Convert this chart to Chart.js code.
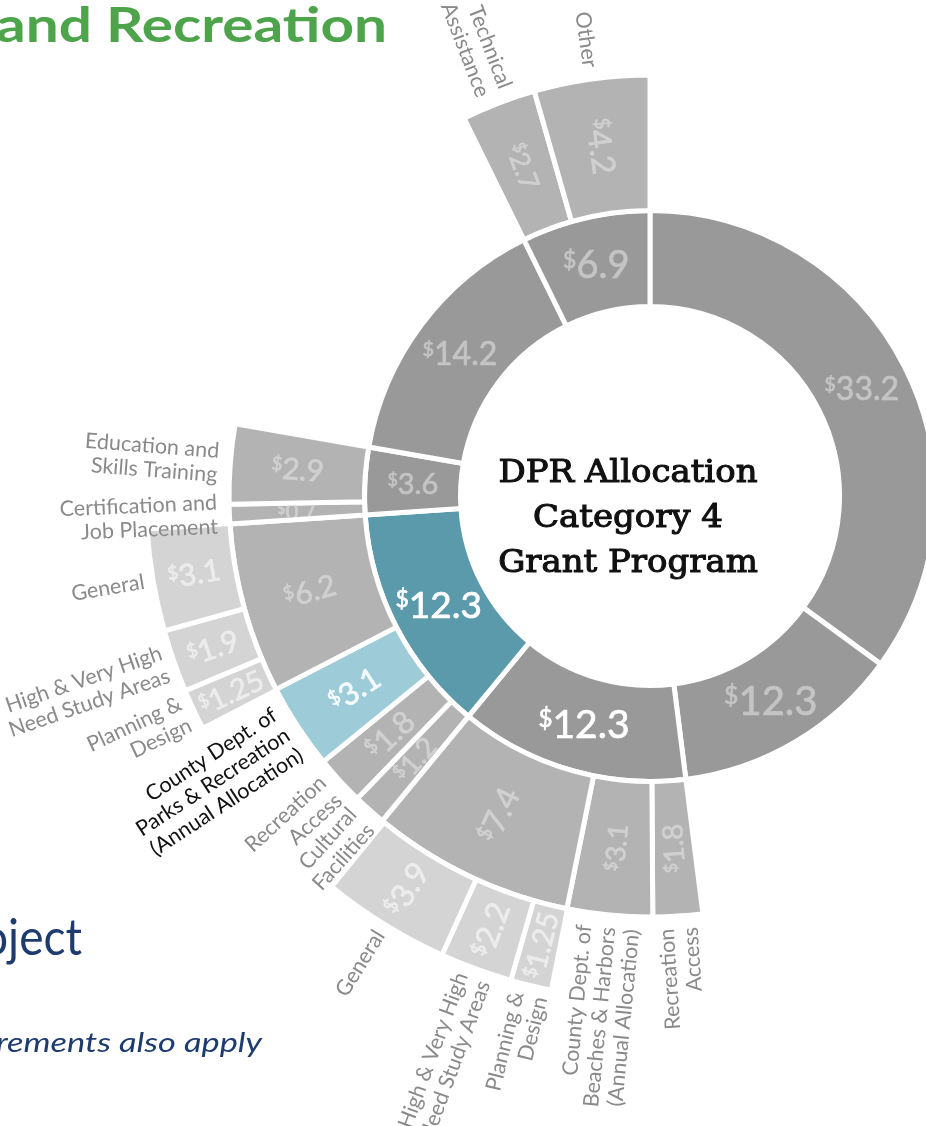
<!DOCTYPE html>
<html>
<head>
<meta charset="utf-8">
<script src="https://cdn.jsdelivr.net/npm/chart.js@4.4.1/dist/chart.umd.min.js"></script>
<style>
html,body{margin:0;padding:0;background:#fff;overflow:hidden;width:926px;height:1126px;}
canvas{display:block;}
</style>
</head>
<body>
<canvas id="c" width="926" height="1126"></canvas>
<script>
// ---------------- DATA ----------------
// Inner ring, clockwise from 12 o'clock ($ millions)
const ring1Values = [33.2, 12.3, 12.3, 12.3, 3.6, 14.2, 6.9];
// Middle ring: parent index (into ring1) and values, clockwise
const ring2Parent = [2, 2, 2, 3, 3, 3, 3, 4, 4, 6, 6];
const ring2Values = [1.8, 3.1, 7.4, 1.2, 1.8, 3.1, 6.2, 0.7, 2.9, 2.7, 4.2];
const ring2Labels = [
  ['Recreation', 'Access'],
  ['County Dept. of', 'Beaches & Harbors', '(Annual Allocation)'],
  null,
  ['Cultural', 'Facilities'],
  ['Recreation', 'Access'],
  ['County Dept. of', 'Parks & Recreation', '(Annual Allocation)'],
  null,
  ['Certification and', 'Job Placement'],
  ['Education and', 'Skills Training'],
  ['Technical', 'Assistance'],
  ['Other']
];
// Outer ring: parent index (into ring2) and values, clockwise
const ring3Parent = [2, 2, 2, 6, 6, 6];
const ring3Values = [1.25, 2.2, 3.9, 1.25, 1.9, 3.1];
const ring3Labels = [
  ['Planning &', 'Design'],
  ['High & Very High', 'Need Study Areas'],
  ['General'],
  ['Planning &', 'Design'],
  ['High & Very High', 'Need Study Areas'],
  ['General']
];
const centerTitle = ['DPR Allocation', 'Category 4', 'Grant Program'];

// ---------------- STYLES ----------------
const GRAY1 = '#999999', GRAY2 = '#b3b3b3', GRAY3 = '#d4d4d4';
const TEAL = '#5b9aab', LIGHTBLUE = '#9dcbd7';
const ring1Colors = [GRAY1, GRAY1, GRAY1, TEAL, GRAY1, GRAY1, GRAY1];
const ring1TextColors = ['#c4c4c4', '#c4c4c4', '#ffffff', '#ffffff', '#c4c4c4', '#c4c4c4', '#c4c4c4'];
const ring1FontSizes = [32, 40, 39, 37, 29, 32, 38];
const ring2Colors = [GRAY2, GRAY2, GRAY2, GRAY2, GRAY2, LIGHTBLUE, GRAY2, GRAY2, GRAY2, GRAY2, GRAY2];
const ring2TextColors = ['#d0d0d0', '#d0d0d0', '#d0d0d0', '#d0d0d0', '#d0d0d0', '#f4fafc', '#d0d0d0', '#d0d0d0', '#d0d0d0', '#d0d0d0', '#d0d0d0'];
const ring2FontSizes = [28, 27, 32, 28, 31, 31, 30, 22, 30, 27, 32];
const ring2LabelColors = ['#8a8a8a', '#8a8a8a', '#8a8a8a', '#8a8a8a', '#8a8a8a', '#111111', '#8a8a8a', '#8a8a8a', '#8a8a8a', '#8a8a8a', '#8a8a8a'];
const ring3FontSizes = [29, 32, 32, 29, 30, 30];
const ring3TextColor = '#ececec';
const LABEL_COLOR = '#8a8a8a';
const LABEL_GAP = { 2: 12, 3: 9 };
const CLEAR = 'rgba(0,0,0,0)';
const BORDER = 5;

// ---------------- BUILD RINGS ----------------
function build() {
  const r1 = { data: [], bg: [], bw: [], meta: [] };
  ring1Values.forEach((v, i) => {
    r1.data.push(v); r1.bg.push(ring1Colors[i]); r1.bw.push(BORDER);
    r1.meta.push({ kind: 'seg', ring: 1, value: v, textColor: ring1TextColors[i], fontSize: ring1FontSizes[i], lines: null });
  });
  const r2 = { data: [], bg: [], bw: [], meta: [] };
  ring1Values.forEach((v, i) => {
    const kids = ring2Values.map((_, j) => j).filter(j => ring2Parent[j] === i);
    if (!kids.length) { r2.data.push(v); r2.bg.push(CLEAR); r2.bw.push(0); r2.meta.push({ kind: 'gap' }); return; }
    kids.forEach(j => {
      r2.data.push(ring2Values[j]); r2.bg.push(ring2Colors[j]); r2.bw.push(BORDER);
      r2.meta.push({ kind: 'seg', ring: 2, idx: j, value: ring2Values[j], textColor: ring2TextColors[j],
        fontSize: ring2FontSizes[j], lines: ring2Labels[j], lineColor: ring2LabelColors[j] });
    });
  });
  const r3 = { data: [], bg: [], bw: [], meta: [] };
  r2.meta.forEach((m, p) => {
    const v = r2.data[p];
    const kids = m.kind === 'seg' ? ring3Values.map((_, k) => k).filter(k => ring3Parent[k] === m.idx) : [];
    if (!kids.length) { r3.data.push(v); r3.bg.push(CLEAR); r3.bw.push(0); r3.meta.push({ kind: 'gap' }); return; }
    let s = 0;
    kids.forEach(k => {
      s += ring3Values[k];
      r3.data.push(ring3Values[k]); r3.bg.push(GRAY3); r3.bw.push(BORDER);
      r3.meta.push({ kind: 'seg', ring: 3, idx: k, value: ring3Values[k], textColor: ring3TextColor,
        fontSize: ring3FontSizes[k], lines: ring3Labels[k], lineColor: LABEL_COLOR });
    });
    if (v - s > 0.001) { r3.data.push(v - s); r3.bg.push(CLEAR); r3.bw.push(0); r3.meta.push({ kind: 'gap' }); }
  });
  return { r1, r2, r3 };
}
const rings = build();

// ---------------- TEXT DRAWING ----------------
function arcPath(ctx, arc, pad) {
  const ro = arc.outerRadius - pad, ri = arc.innerRadius + pad;
  ctx.beginPath();
  ctx.arc(arc.x, arc.y, ro, arc.startAngle + pad / ro, arc.endAngle - pad / ro);
  ctx.arc(arc.x, arc.y, ri, arc.endAngle - pad / ri, arc.startAngle + pad / ri, true);
  ctx.closePath();
}
function drawValue(ctx, arc, m) {
  const a = (arc.startAngle + arc.endAngle) / 2;
  const rm = (arc.innerRadius + arc.outerRadius) / 2;
  ctx.save();
  arcPath(ctx, arc, BORDER / 2);
  ctx.clip();
  ctx.translate(arc.x + rm * Math.cos(a), arc.y + rm * Math.sin(a));
  if (m.ring > 1) ctx.rotate(a + Math.PI);
  const s = m.fontSize;
  const num = String(m.value);
  ctx.font = s + 'px Lato'; const wN = ctx.measureText(num).width;
  ctx.font = (s * 0.62) + 'px Lato'; const wS = ctx.measureText('$').width;
  const x0 = -(wN + wS) / 2;
  ctx.fillStyle = m.textColor;
  ctx.strokeStyle = m.textColor;
  ctx.lineWidth = 0.7;
  ctx.textAlign = 'left'; ctx.textBaseline = 'alphabetic';
  ctx.fillText('$', x0, 0.08 * s);
  ctx.strokeText('$', x0, 0.08 * s);
  ctx.font = s + 'px Lato';
  ctx.fillText(num, x0 + wS, 0.36 * s);
  ctx.strokeText(num, x0 + wS, 0.36 * s);
  ctx.restore();
}
function drawCategory(ctx, arc, m) {
  const a = (arc.startAngle + arc.endAngle) / 2;
  const R = arc.outerRadius + LABEL_GAP[m.ring];
  ctx.save();
  ctx.translate(arc.x + R * Math.cos(a), arc.y + R * Math.sin(a));
  ctx.rotate(a + Math.PI);
  ctx.font = '21.5px Lato';
  ctx.fillStyle = m.lineColor;
  ctx.textAlign = 'right'; ctx.textBaseline = 'middle';
  const n = m.lines.length, lh = 24;
  m.lines.forEach((t, k) => ctx.fillText(t, 0, (k - (n - 1) / 2) * lh));
  ctx.restore();
}
function fitText(ctx, text, font, xRight, baseline, width, color) {
  ctx.save();
  ctx.font = font; ctx.fillStyle = color;
  const w = ctx.measureText(text).width;
  const sx = width / w;
  ctx.translate(xRight - width, baseline);
  ctx.scale(sx, 1);
  ctx.textAlign = 'left'; ctx.textBaseline = 'alphabetic';
  ctx.fillText(text, 0, 0);
  ctx.restore();
}

const textPlugin = {
  id: 'sunburstText',
  afterDatasetsDraw(chart) {
    const ctx = chart.ctx;
    chart.data.datasets.forEach((ds, di) => {
      const meta = chart.getDatasetMeta(di);
      meta.data.forEach((arc, p) => {
        const m = ds.segMeta[p];
        if (!m || m.kind !== 'seg') return;
        drawValue(ctx, arc, m);
        if (m.lines) drawCategory(ctx, arc, m);
      });
    });
    // centre title
    const c = chart.getDatasetMeta(0).data[0];
    ctx.save();
    ctx.font = '32px "DejaVu Serif"';
    const wMax = ctx.measureText(centerTitle[0]).width;
    const sx = 259 / wMax;
    ctx.fillStyle = '#111111';
    ctx.strokeStyle = '#111111';
    ctx.lineWidth = 1.1;
    ctx.textAlign = 'center'; ctx.textBaseline = 'alphabetic';
    centerTitle.forEach((t, k) => {
      ctx.save();
      ctx.translate(c.x - 22, c.y - 14 + k * 45);
      ctx.scale(sx, 1);
      ctx.fillText(t, 0, 0);
      ctx.strokeText(t, 0, 0);
      ctx.restore();
    });
    ctx.restore();
    // surrounding page fragments
    fitText(ctx, 'and Recreation', 'bold 47px Lato', 387, 42, 391, '#4ea44a');
    fitText(ctx, 'oject', '50px Lato', 82, 955, 100, '#1d3b6f');
    fitText(ctx, 'rements also apply', 'italic 27px Lato', 262, 1052, 266, '#1d3b6f');
  }
};

const OUTER_R = 504, INNER_R = 189.5;
new Chart(document.getElementById('c'), {
  type: 'doughnut',
  data: {
    datasets: [
      { data: rings.r3.data, backgroundColor: rings.r3.bg, borderWidth: rings.r3.bw, borderColor: '#ffffff', weight: 83, segMeta: rings.r3.meta, clip: false },
      { data: rings.r2.data, backgroundColor: rings.r2.bg, borderWidth: rings.r2.bw, borderColor: '#ffffff', weight: 135.5, segMeta: rings.r2.meta, clip: false },
      { data: rings.r1.data, backgroundColor: rings.r1.bg, borderWidth: rings.r1.bw, borderColor: '#ffffff', weight: 96, segMeta: rings.r1.meta, clip: false }
    ]
  },
  options: {
    responsive: false,
    maintainAspectRatio: false,
    animation: false,
    events: [],
    radius: OUTER_R,
    cutout: (INNER_R / OUTER_R * 100) + '%',
    layout: { padding: { left: 374, right: 0, top: 0, bottom: 134 } },
    plugins: { legend: { display: false }, tooltip: { enabled: false } }
  },
  plugins: [textPlugin]
});
</script>
</body>
</html>
